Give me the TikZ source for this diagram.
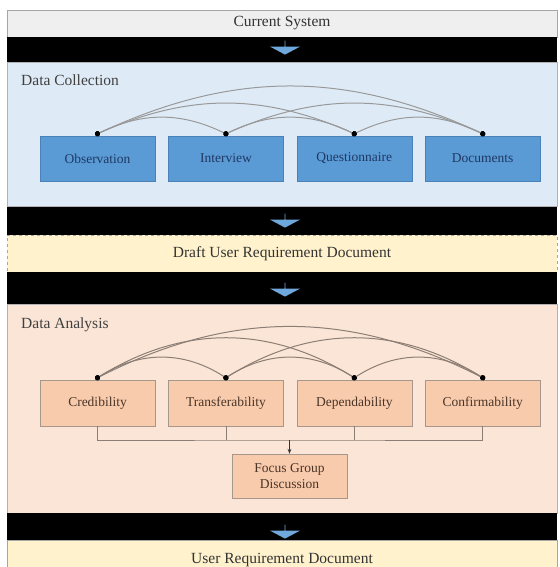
\documentclass[tikz,border=0pt]{standalone}
\usepackage{fontspec}
\setmainfont{Liberation Serif}
\usetikzlibrary{positioning}
\usetikzlibrary{shapes.arrows}
\usetikzlibrary{arrows.meta}
\definecolor{bandgray}{HTML}{EFEFEF}
\definecolor{colpanel}{HTML}{DEEBF7}
\definecolor{colbox}{HTML}{5B9BD5}
\definecolor{colboxline}{HTML}{4A82B8}
\definecolor{colboxtext}{HTML}{1F3864}
\definecolor{arrowblue}{HTML}{6FA8DC}
\definecolor{docband}{HTML}{FFF2CC}
\definecolor{anapanel}{HTML}{FBE5D6}
\definecolor{anabox}{HTML}{F8CBAD}
\definecolor{anaboxline}{HTML}{A6978C}
\definecolor{anatext}{HTML}{4A3426}
\definecolor{arcgray}{HTML}{999999}
\definecolor{arcbrown}{HTML}{8C7E74}
\tikzset{x=1pt, y=-1pt,
    node distance=13pt,
    band/.style={
        draw=gray!70,
        minimum width=550pt,
        inner sep=0pt,
        text=black!80,
        font=\fontsize{15.5}{17}\selectfont},
    blackband/.style={
        fill=black,
        minimum width=550pt,
        inner sep=0pt},
    panel/.style={
        draw=gray!60,
        minimum width=550pt,
        inner sep=0pt},
    paneltitle/.style={
        anchor=west,
        inner sep=0pt,
        text=black!75,
        font=\fontsize{15.5}{17}\selectfont},
    collbox/.style={
        fill=colbox,
        draw=colboxline,
        minimum width=115pt,
        minimum height=45pt,
        inner sep=0pt,
        text=colboxtext,
        font=\fontsize{13.5}{15}\selectfont},
    anabox/.style={
        fill=anabox,
        draw=anaboxline,
        minimum width=115pt,
        minimum height=46pt,
        inner sep=0pt,
        align=center,
        text=anatext,
        font=\fontsize{13.5}{16}\selectfont},
    downarrow/.style={
        single arrow,
        shape border rotate=270,
        fill=arrowblue,
        minimum height=14pt,
        minimum width=30pt,
        single arrow head extend=8pt,
        single arrow tip angle=124,
        inner sep=0pt},
    link/.style={
        draw=arcgray,
        line width=1pt,
        shorten <=-2.5pt,
        shorten >=-2.5pt,
        {Circle[length=5pt, color=black]}-{Circle[length=5pt, color=black]}},
    analink/.style={
        link,
        draw=arcbrown}}

\begin{document}
\begin{tikzpicture}
    \useasboundingbox (0,0) rectangle (559,567);

    % bands and panels
    \node[band, fill=bandgray, minimum height=27pt] (cur) at (282,23.5) {Current System};
    \node[blackband, minimum height=25pt] (bk1) at (282,49.5) {};
    \node[panel, fill=colpanel, minimum height=144pt] (colpanel) at (282,134) {};
    \node[blackband, minimum height=28pt] (bk2) at (282,221) {};
    \node[band, fill=docband, dashed, minimum height=37pt] (draft) at (282,253.5) {Draft User Requirement Document};
    \node[blackband, minimum height=32pt] (bk3) at (282,288) {};
    \node[panel, fill=anapanel, minimum height=209pt] (anapanel) at (282,408.5) {};
    \node[blackband, minimum height=27pt] (bk4) at (282,526.5) {};
    \node[band, fill=docband, minimum height=40pt] (urd) at (282,560) {User Requirement Document};

    \node[downarrow] (a1) at (285,47.5) {};
    \node[downarrow] (a2) at (285,220.5) {};
    \node[downarrow] (a3) at (285,289.5) {};
    \node[downarrow] (a4) at (285,531.5) {};

    % data collection
    \node[paneltitle] (coltitle) at (21,80) {Data Collection};
    \node[collbox] (obs) at (97.5,158.5) {Observation};
    \node[collbox, right=of obs] (intv) {Interview};
    \node[collbox, right=of intv] (quest) {Questionnaire};
    \node[collbox, right=of quest] (docs) {Documents};

    \draw[link] ([yshift=2pt]obs.north) to[bend left=26] ([yshift=2pt]intv.north);
    \draw[link] ([yshift=2pt]obs.north) to[bend left=24] ([yshift=2pt]quest.north);
    \draw[link] ([yshift=2pt]obs.north) to[bend left=25] ([yshift=2pt]docs.north);
    \draw[link] ([yshift=2pt]intv.north) to[bend left=26] ([yshift=2pt]quest.north);
    \draw[link] ([yshift=2pt]intv.north) to[bend left=24] ([yshift=2pt]docs.north);
    \draw[link] ([yshift=2pt]quest.north) to[bend left=26] ([yshift=2pt]docs.north);

    % data analysis
    \node[paneltitle] (anatitle) at (21,325) {Data Analysis};
    \node[anabox] (cred) at (97.5,403) {Credibility};
    \node[anabox, right=of cred] (trans) {Transferability};
    \node[anabox, right=of trans] (dep) {Dependability};
    \node[anabox, right=of dep] (conf) {Confirmability};
    \node[anabox, minimum height=44pt] (fg) at (289.5,476) {Focus Group\\Discussion};

    \draw[analink] ([yshift=2pt]cred.north) to[bend left=33] ([yshift=2pt]trans.north);
    \draw[analink] ([yshift=2pt]cred.north) to[bend left=32] ([yshift=2pt]dep.north);
    \draw[analink] ([yshift=2pt]cred.north) to[bend left=27] ([yshift=2pt]conf.north);
    \draw[analink] ([yshift=2pt]trans.north) to[bend left=33] ([yshift=2pt]dep.north);
    \draw[analink] ([yshift=2pt]trans.north) to[bend left=32] ([yshift=2pt]conf.north);
    \draw[analink] ([yshift=2pt]dep.north) to[bend left=33] ([yshift=2pt]conf.north);

    \coordinate (bus) at (289.5,440);
    \draw[arcbrown, line width=0.8pt] (cred.south) |- (bus) -| (conf.south);
    \draw[arcbrown, line width=0.8pt] (trans.south) -- (trans.south |- bus);
    \draw[arcbrown, line width=0.8pt] (dep.south) -- (dep.south |- bus);
    \draw[black!80, line width=0.8pt, -{Stealth[length=5pt]}] (bus) -- (fg.north);
\end{tikzpicture}
\end{document}
